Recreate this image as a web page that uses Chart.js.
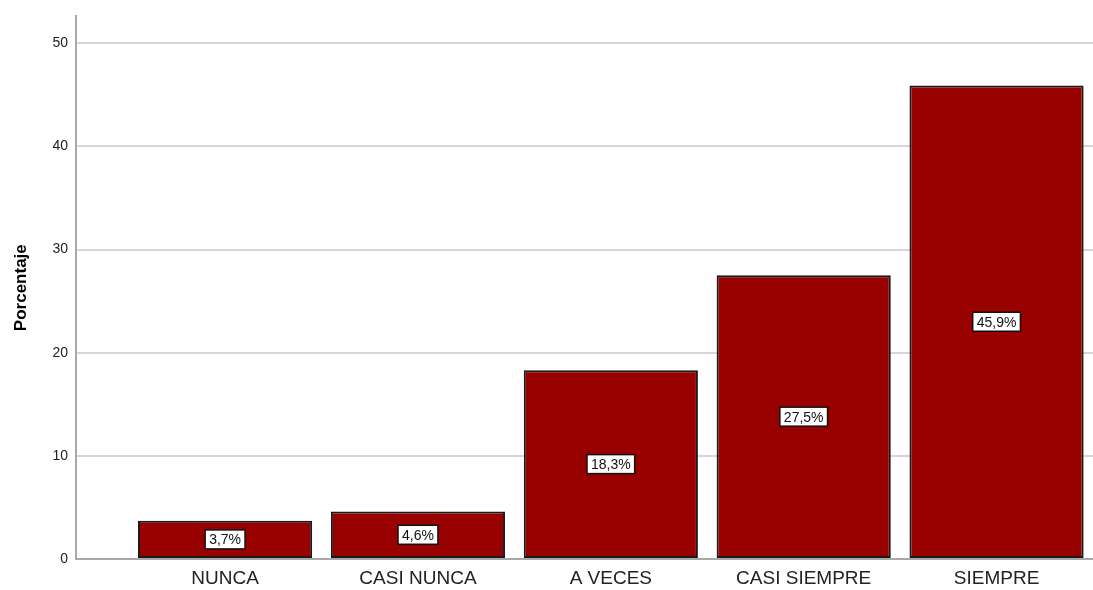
<!DOCTYPE html>
<html>
<head>
<meta charset="utf-8">
<script src="https://cdn.jsdelivr.net/npm/chart.js@4/dist/chart.umd.min.js"></script>
<style>
  html, body { margin: 0; padding: 0; background: #fff; }
  #wrap { width: 1093px; height: 590px; }
</style>
</head>
<body>
<div id="wrap"><canvas id="grafic"></canvas></div>
<script>
const categorii = ['NUNCA', 'CASI NUNCA', 'A VECES', 'CASI SIEMPRE', 'SIEMPRE'];
const procente = [3.7, 4.6, 18.3, 27.5, 45.9];
const eticheteY = [0, 10, 20, 30, 40, 50];

// etichete tip casetă albă în mijlocul barelor
const eticheteBare = {
  id: 'eticheteBare',
  afterDatasetsDraw(chart) {
    const ctx = chart.ctx;
    const meta = chart.getDatasetMeta(0);
    ctx.save();
    ctx.font = '14px "Liberation Sans", Arial, sans-serif';
    ctx.textAlign = 'center';
    ctx.textBaseline = 'middle';
    meta.data.forEach((bar, i) => {
      const txt = procente[i].toFixed(1).replace('.', ',') + '%';
      const y = (bar.y + bar.base) / 2;
      const w = ctx.measureText(txt).width + 8;
      const h = 19;
      ctx.fillStyle = '#fff';
      ctx.fillRect(bar.x - w / 2, y - h / 2, w, h);
      ctx.strokeStyle = '#111';
      ctx.lineWidth = 1.5;
      ctx.strokeRect(bar.x - w / 2, y - h / 2, w, h);
      ctx.fillStyle = '#111';
      ctx.fillText(txt, bar.x, y + 1);
    });
    ctx.restore();
  }
};

new Chart(document.getElementById('grafic'), {
  type: 'bar',
  data: {
    datasets: [{
      data: procente.map((v, i) => ({ x: i, y: v })),
      backgroundColor: '#990000',
      borderColor: '#1a1a1a',
      borderWidth: 2,
      borderSkipped: false,
      barPercentage: 0.903,
      categoryPercentage: 1
    }]
  },
  options: {
    responsive: true,
    maintainAspectRatio: false,
    animation: false,
    layout: { padding: { top: 15, left: 0, right: 0, bottom: 0 } },
    plugins: { legend: { display: false }, tooltip: { enabled: false } },
    scales: {
      x: {
        type: 'linear',
        offset: false,
        min: -0.773,
        max: 4.5,
        grid: { display: false, drawTicks: false, offset: false },
        border: { color: '#a8a8a8', width: 2 },
        afterBuildTicks: (s) => { s.ticks = categorii.map((_, i) => ({ value: i })); },
        afterFit: (s) => { s.height = 31; },
        ticks: {
          autoSkip: false,
          maxRotation: 0,
          padding: 8,
          color: '#222',
          font: { family: '"Liberation Sans", Arial, sans-serif', size: 19 },
          callback: (v) => categorii[v] ?? ''
        }
      },
      y: {
        min: 0,
        max: 52.6,
        afterBuildTicks: (s) => { s.ticks = eticheteY.map((v) => ({ value: v })); },
        afterFit: (s) => { s.width = 76; },
        grid: { color: '#d6d6d6', lineWidth: 2, drawTicks: false },
        border: { color: '#a8a8a8', width: 2 },
        ticks: {
          padding: 8,
          color: '#222',
          font: { family: '"Liberation Sans", Arial, sans-serif', size: 14 }
        },
        title: {
          display: true,
          text: 'Porcentaje',
          color: '#000',
          padding: { top: 11, bottom: 0 },
          font: { family: '"Liberation Sans", Arial, sans-serif', size: 17, weight: 'bold' }
        }
      }
    }
  },
  plugins: [eticheteBare]
});
</script>
</body>
</html>
